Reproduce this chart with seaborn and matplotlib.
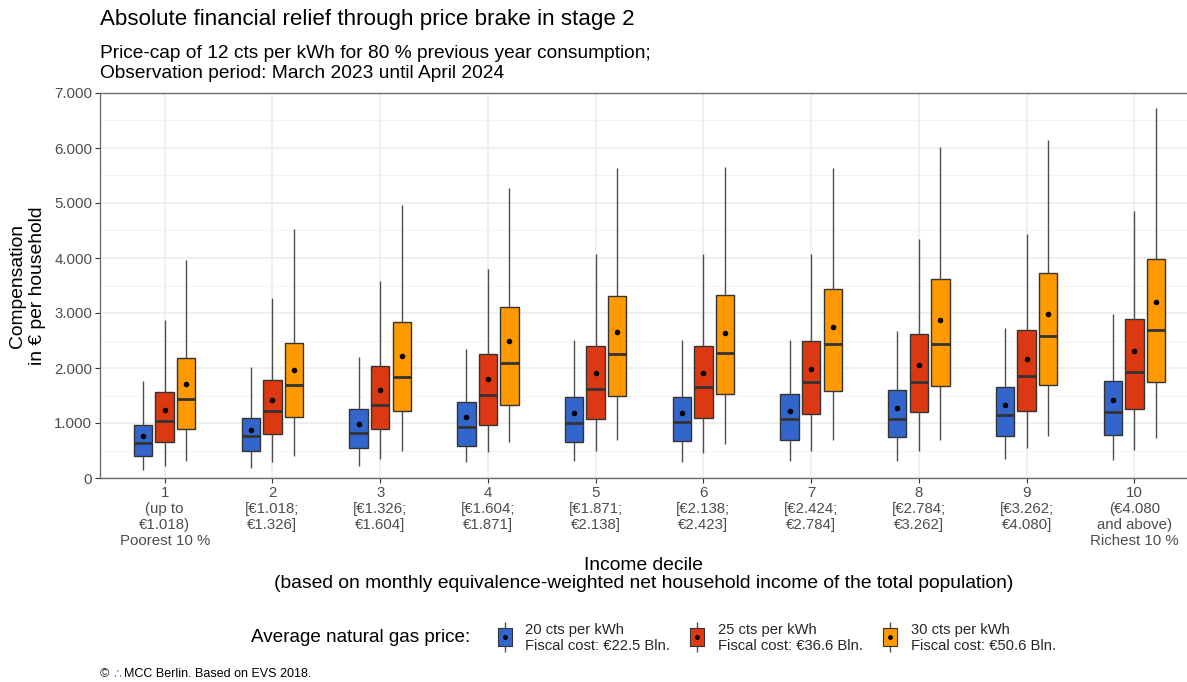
import numpy as np
import pandas as pd
import matplotlib
matplotlib.use("Agg")
import matplotlib.pyplot as plt
import seaborn as sns
from matplotlib.lines import Line2D
from matplotlib.path import Path
from matplotlib.legend_handler import HandlerTuple
from matplotlib.ticker import MultipleLocator, FuncFormatter

# ---------------- data ----------------
deciles = ["1", "2", "3", "4", "5", "6", "7", "8", "9", "10"]
tick_labels = [
    "1\n(up to\n€1.018)\nPoorest 10 %",
    "2\n[€1.018;\n€1.326]",
    "3\n[€1.326;\n€1.604]",
    "4\n[€1.604;\n€1.871]",
    "5\n[€1.871;\n€2.138]",
    "6\n[€2.138;\n€2.423]",
    "7\n[€2.424;\n€2.784]",
    "8\n[€2.784;\n€3.262]",
    "9\n[€3.262;\n€4.080]",
    "10\n(€4.080\nand above)\nRichest 10 %",
]
prices = ["20 cts per kWh", "25 cts per kWh", "30 cts per kWh"]
fiscal_costs = ["€22.5 Bln.", "€36.6 Bln.", "€50.6 Bln."]
colors = ["#3366CC", "#DC3912", "#FF9900"]

# 20 cts per kWh
low_20 = [146, 177, 213, 292, 304, 286, 310, 310, 341, 329]
q1_20 = [396, 493, 542, 590, 657, 676, 700, 743, 755, 779]
med_20 = [645, 755, 822, 931, 998, 1016, 1077, 1077, 1150, 1193]
q3_20 = [968, 1096, 1254, 1388, 1473, 1479, 1528, 1607, 1662, 1771]
high_20 = [1759, 2015, 2203, 2337, 2501, 2501, 2501, 2678, 2727, 2982]
mean_20 = [761, 876, 986, 1102, 1181, 1175, 1217, 1272, 1327, 1418]

# 25 cts per kWh
low_25 = [219, 292, 347, 469, 493, 450, 499, 499, 548, 517]
q1_25 = [651, 797, 883, 962, 1071, 1096, 1156, 1199, 1223, 1260]
med_25 = [1041, 1223, 1333, 1516, 1625, 1656, 1747, 1747, 1862, 1935]
q3_25 = [1570, 1777, 2039, 2252, 2392, 2404, 2489, 2617, 2696, 2885]
high_25 = [2873, 3275, 3585, 3804, 4066, 4072, 4072, 4340, 4437, 4851]
mean_25 = [1236, 1424, 1607, 1795, 1911, 1905, 1978, 2063, 2161, 2307]

# 30 cts per kWh
low_30 = [304, 402, 487, 651, 682, 627, 682, 682, 761, 724]
q1_30 = [895, 1114, 1223, 1333, 1485, 1522, 1589, 1668, 1698, 1741]
med_30 = [1442, 1698, 1844, 2100, 2246, 2276, 2428, 2428, 2574, 2690]
q3_30 = [2179, 2459, 2830, 3116, 3311, 3335, 3439, 3627, 3731, 3987]
high_30 = [3968, 4534, 4967, 5265, 5630, 5648, 5636, 6019, 6141, 6719]
mean_30 = [1710, 1972, 2222, 2489, 2648, 2642, 2739, 2867, 2988, 3195]

box_stats = {
    prices[0]: [low_20, q1_20, med_20, q3_20, high_20],
    prices[1]: [low_25, q1_25, med_25, q3_25, high_25],
    prices[2]: [low_30, q1_30, med_30, q3_30, high_30],
}
means = {prices[0]: mean_20, prices[1]: mean_25, prices[2]: mean_30}

# long tables: five values per box reproduce its quartiles exactly
rows = []
for p in prices:
    for i, d in enumerate(deciles):
        for arr in box_stats[p]:
            rows.append((d, p, arr[i]))
df_box = pd.DataFrame(rows, columns=["decile", "price", "value"])
df_mean = pd.DataFrame(
    [(d, p, means[p][i]) for p in prices for i, d in enumerate(deciles)],
    columns=["decile", "price", "mean"],
)

# ---------------- style ----------------
sns.set_theme(style="white")
plt.rcParams["font.family"] = ["Liberation Sans", "DejaVu Sans"]

fig = plt.figure(figsize=(11.87, 6.82), dpi=100)
ax = fig.add_axes([100 / 1187, 1 - 478 / 682, 1 - 100 / 1187, (478 - 93) / 682])

sns.boxplot(
    data=df_box, x="decile", y="value", hue="price",
    order=deciles, hue_order=prices, palette=colors, saturation=1,
    width=0.6, gap=0.15, whis=(0, 100), linecolor="#333333", linewidth=1.0,
    showcaps=False, legend=False, ax=ax,
    medianprops=dict(color="#333333", linewidth=2.0),
    whiskerprops=dict(color="#4D4D4D", linewidth=1.0),
)
sns.pointplot(
    data=df_mean, x="decile", y="mean", hue="price",
    order=deciles, hue_order=prices, palette=["black"] * 3,
    dodge=0.4, linestyle="none", markers="o", errorbar=None,
    markersize=4, markeredgewidth=0, legend=False, ax=ax, zorder=5,
)

ax.set_xlim(-0.6, 9 + (1187 - 1134.5) / 107.5)
ax.set_ylim(0, 7000)
ax.yaxis.set_major_locator(MultipleLocator(1000))
ax.yaxis.set_minor_locator(MultipleLocator(500))
ax.yaxis.set_major_formatter(FuncFormatter(lambda v, p: f"{int(v):,}".replace(",", ".")))
ax.set_xticks(range(len(deciles)))
ax.set_xticklabels(tick_labels)

ax.set_axisbelow(True)
ax.grid(which="major", axis="both", color="#EBEBEB", linewidth=1.1)
ax.grid(which="minor", axis="y", color="#F3F3F3", linewidth=0.6)

for side in ["left", "bottom", "top"]:
    ax.spines[side].set_visible(True)
    ax.spines[side].set_color("#6E6E6E")
    ax.spines[side].set_linewidth(1.0)
ax.spines["right"].set_visible(False)

ax.tick_params(axis="both", which="major", length=3.5, width=0.8, color="#333333",
               labelcolor="#4D4D4D", labelsize=10.8, pad=2, bottom=True, left=True)
ax.tick_params(axis="y", which="minor", length=0)
for lab in ax.get_xticklabels():
    lab.set_linespacing(1.2)

ax.set_xlabel("Income decile\n(based on monthly equivalence-weighted net household income of the total population)",
              fontsize=13.9, color="black", labelpad=6, linespacing=1.12)
ax.set_ylabel("Compensation\nin € per household", fontsize=13.9, color="black",
              labelpad=6, linespacing=1.25)

# titles
fig.text(100 / 1187, 1 - 20 / 682, "Absolute financial relief through price brake in stage 2",
         fontsize=16.1, va="center", ha="left", color="black")
fig.text(100 / 1187, 1 - 63.5 / 682,
         "Price-cap of 12 cts per kWh for 80 % previous year consumption;\nObservation period: March 2023 until April 2024",
         fontsize=13.8, va="center", ha="left", color="black", linespacing=1.2)

# legend: box glyph built from centred markers
box_marker = Path([(-0.7, -1), (0.7, -1), (0.7, 1), (-0.7, 1), (-0.7, -1)],
                  [Path.MOVETO, Path.LINETO, Path.LINETO, Path.LINETO, Path.CLOSEPOLY])
handles = []
for c in colors:
    handles.append((
        Line2D([], [], marker="|", markersize=22, markeredgewidth=1.0, color="#4D4D4D", linestyle="none"),
        Line2D([], [], marker=box_marker, markersize=13.5, markerfacecolor=c,
               markeredgecolor="#333333", markeredgewidth=0.8, linestyle="none"),
        Line2D([], [], marker="o", markersize=3.5, markeredgewidth=0, color="black", linestyle="none"),
    ))
labels = [f"{p}\nFiscal cost: {fc}" for p, fc in zip(prices, fiscal_costs)]
fig.legend(handles, labels, handler_map={tuple: HandlerTuple(ndivide=1)},
           loc="center left", bbox_to_anchor=(485 / 1187, 1 - 638 / 682),
           ncol=3, frameon=False, fontsize=10.6, handlelength=0.85, handleheight=1.3,
           handletextpad=1.0, columnspacing=1.4, labelspacing=0.3)
fig.text(470 / 1187, 1 - 638 / 682, "Average natural gas price:", fontsize=13.6,
         ha="right", va="center", color="black")

# caption
fig.text(100 / 1187, 1 - 674 / 682, "©", fontsize=9, ha="left", va="center")
fig.text(113 / 1187, 1 - 674 / 682, "∴", fontsize=9, ha="left", va="center", color="#4A7FC1",
         family="DejaVu Sans")
fig.text(124 / 1187, 1 - 674 / 682, "MCC Berlin. Based on EVS 2018.", fontsize=9,
         ha="left", va="center", color="black")

fig.savefig("out.png", dpi=100)
